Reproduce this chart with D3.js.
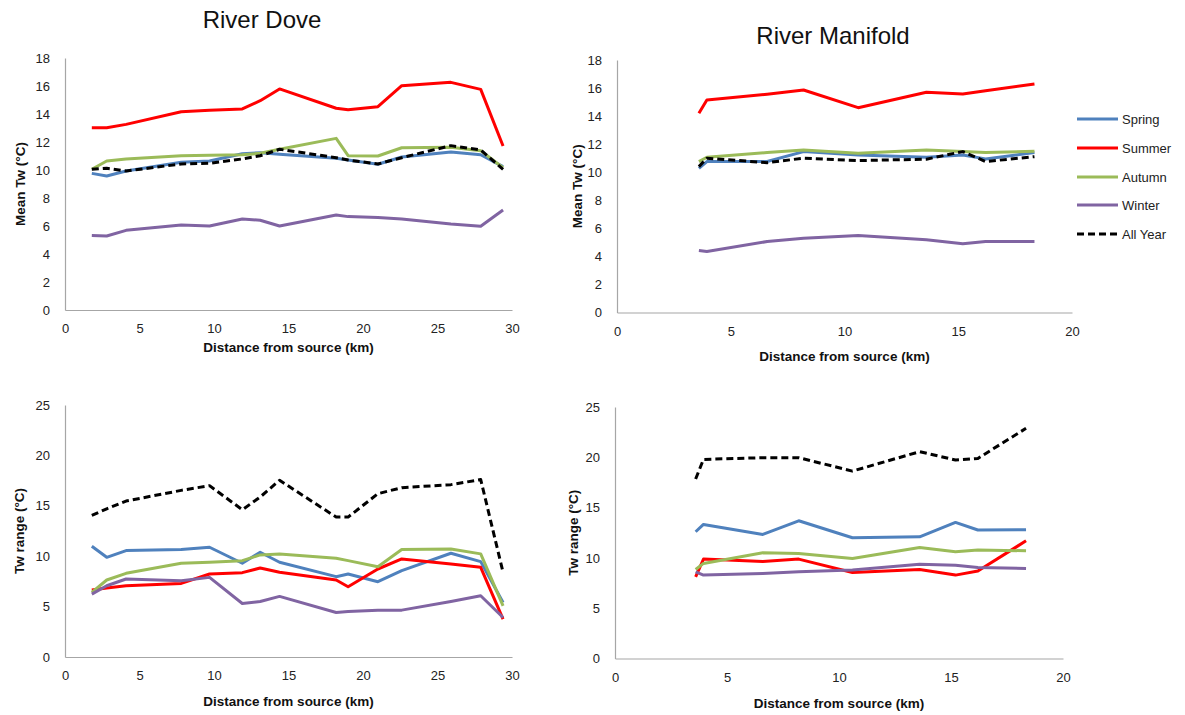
<!DOCTYPE html>
<html>
<head>
<meta charset="utf-8">
<script src="https://cdn.jsdelivr.net/npm/d3@7"></script>
<style>
  html, body { margin: 0; padding: 0; background: #fff; }
  svg { display: block; font-family: "Liberation Sans", Arial, sans-serif; }
</style>
</head>
<body>
<svg id="chart" width="1185" height="715"></svg>
<script>
// Sampling stations, distance from source (km)
const doveDistance = [1.8, 2.8, 4.1, 7.8, 9.7, 11.9, 13.1, 14.4, 18.2, 19.0, 21.0, 22.6, 25.9, 27.9, 29.4];
const manifoldDistance = [3.6, 3.95, 6.6, 8.2, 10.6, 13.6, 15.2, 16.2, 18.35];

// River Dove – mean water temperature (°C)
const doveMeanSpring  = [9.76, 9.57, 9.93, 10.55, 10.64, 11.16, 11.24, 11.12, 10.84, 10.71, 10.41, 10.93, 11.29, 11.09, 10.24];
const doveMeanSummer  = [13.02, 13.02, 13.26, 14.16, 14.26, 14.36, 14.95, 15.79, 14.41, 14.31, 14.52, 16.02, 16.26, 15.76, 11.71];
const doveMeanAutumn  = [10.05, 10.64, 10.79, 11.02, 11.05, 11.09, 11.19, 11.48, 12.26, 11.02, 11.0, 11.59, 11.62, 11.38, 10.16];
const doveMeanWinter  = [5.33, 5.29, 5.69, 6.07, 6.0, 6.5, 6.41, 6.0, 6.79, 6.67, 6.6, 6.5, 6.14, 5.98, 7.14];
const doveMeanAllYear = [10.05, 10.12, 9.93, 10.43, 10.48, 10.79, 11.02, 11.48, 10.88, 10.71, 10.43, 10.88, 11.74, 11.43, 10.05];

// River Dove – water temperature range (°C)
const doveRangeSpring  = [10.99, 9.89, 10.56, 10.66, 10.89, 9.30, 10.39, 9.40, 7.97, 8.23, 7.47, 8.57, 10.29, 9.46, 5.41];
const doveRangeSummer  = [6.64, 6.84, 7.07, 7.30, 8.23, 8.37, 8.83, 8.40, 7.64, 6.97, 8.73, 9.73, 9.23, 8.9, 3.75];
const doveRangeAutumn  = [6.41, 7.64, 8.30, 9.30, 9.40, 9.56, 10.13, 10.23, 9.79, 9.56, 8.96, 10.66, 10.72, 10.23, 5.08];
const doveRangeWinter  = [6.24, 7.07, 7.74, 7.57, 7.90, 5.31, 5.51, 6.01, 4.42, 4.52, 4.65, 4.65, 5.51, 6.08, 3.92];
const doveRangeAllYear = [14.04, 14.7, 15.47, 16.53, 17.0, 14.61, 15.87, 17.53, 13.88, 13.88, 16.2, 16.8, 17.1, 17.6, 8.4];

// River Manifold – mean water temperature (°C)
const manMeanSpring  = [10.28, 10.76, 10.76, 11.47, 11.23, 11.07, 11.23, 10.95, 11.4];
const manMeanSummer  = [14.2, 15.15, 15.56, 15.86, 14.6, 15.7, 15.58, 15.8, 16.29];
const manMeanAutumn  = [10.76, 11.07, 11.4, 11.59, 11.35, 11.59, 11.47, 11.4, 11.5];
const manMeanWinter  = [4.42, 4.35, 5.06, 5.3, 5.49, 5.18, 4.9, 5.06, 5.06];
const manMeanAllYear = [10.4, 11.0, 10.68, 11.0, 10.83, 10.93, 11.47, 10.76, 11.11];

// River Manifold – water temperature range (°C)
const manRangeSpring  = [12.6, 13.33, 12.33, 13.69, 12.0, 12.1, 13.53, 12.77, 12.8];
const manRangeSummer  = [8.12, 9.88, 9.65, 9.88, 8.55, 8.85, 8.29, 8.69, 11.7];
const manRangeAutumn  = [8.85, 9.45, 10.51, 10.44, 9.95, 11.04, 10.61, 10.78, 10.71];
const manRangeWinter  = [8.62, 8.29, 8.45, 8.62, 8.79, 9.38, 9.28, 9.05, 8.95];
const manRangeAllYear = [17.84, 19.79, 19.96, 19.96, 18.63, 20.56, 19.73, 19.89, 22.88];

const seriesNames = ["Spring", "Summer", "Autumn", "Winter", "All Year"];
const seriesColors = ["#4F81BD", "#FF0000", "#9BBB59", "#8064A2", "#000000"];

const svg = d3.select("#chart");

// Panel layout: pixel extents of each plot area
const panels = [
  { x0: 65, x1: 512, yTop: 58, yBot: 310, xMax: 30, yMax: 18, yStep: 2, xStep: 5,
    yTitle: "Mean Tw (°C)", yTitleX: 25, xTitleY: 352, distance: doveDistance,
    values: [doveMeanSpring, doveMeanSummer, doveMeanAutumn, doveMeanWinter, doveMeanAllYear] },
  { x0: 617, x1: 1072, yTop: 60, yBot: 312.5, xMax: 20, yMax: 18, yStep: 2, xStep: 5,
    yTitle: "Mean Tw (°C)", yTitleX: 582, xTitleY: 361, distance: manifoldDistance,
    values: [manMeanSpring, manMeanSummer, manMeanAutumn, manMeanWinter, manMeanAllYear] },
  { x0: 65, x1: 512, yTop: 405, yBot: 657, xMax: 30, yMax: 25, yStep: 5, xStep: 5,
    yTitle: "Tw range (°C)", yTitleX: 24, xTitleY: 706, distance: doveDistance,
    values: [doveRangeSpring, doveRangeSummer, doveRangeAutumn, doveRangeWinter, doveRangeAllYear] },
  { x0: 615, x1: 1063, yTop: 407, yBot: 658.5, xMax: 20, yMax: 25, yStep: 5, xStep: 5,
    yTitle: "Tw range (°C)", yTitleX: 578, xTitleY: 708, distance: manifoldDistance,
    values: [manRangeSpring, manRangeSummer, manRangeAutumn, manRangeWinter, manRangeAllYear] }
];

const axisColor = "#A6A6A6";

panels.forEach(p => {
  const x = d3.scaleLinear().domain([0, p.xMax]).range([p.x0, p.x1]);
  const y = d3.scaleLinear().domain([0, p.yMax]).range([p.yBot, p.yTop]);

  const g = svg.append("g");

  // y axis (line only, labels to the left)
  const yAxis = d3.axisLeft(y)
    .tickValues(d3.range(0, p.yMax + 0.001, p.yStep))
    .tickSize(0).tickPadding(15);
  const ya = g.append("g").attr("transform", `translate(${p.x0},0)`).call(yAxis);
  ya.select(".domain").attr("stroke", axisColor).attr("stroke-width", 1.2);
  ya.selectAll("text").attr("font-size", 13).attr("fill", "#222")
    .attr("font-family", "Liberation Sans, Arial, sans-serif");

  // x axis
  const xAxis = d3.axisBottom(x)
    .tickValues(d3.range(0, p.xMax + 0.001, p.xStep))
    .tickSize(0).tickPadding(14);
  const xa = g.append("g").attr("transform", `translate(0,${p.yBot})`).call(xAxis);
  xa.select(".domain").attr("stroke", axisColor).attr("stroke-width", 1.2);
  xa.selectAll("text").attr("font-size", 13).attr("fill", "#222")
    .attr("font-family", "Liberation Sans, Arial, sans-serif");

  // axis titles
  g.append("text")
    .attr("x", (p.x0 + p.x1) / 2).attr("y", p.xTitleY)
    .attr("text-anchor", "middle").attr("font-weight", "bold").attr("font-size", 13.5)
    .attr("fill", "#111")
    .text("Distance from source (km)");
  g.append("text")
    .attr("transform", `translate(${p.yTitleX},${(p.yTop + p.yBot) / 2}) rotate(-90)`)
    .attr("text-anchor", "middle").attr("font-weight", "bold").attr("font-size", 13.5)
    .attr("fill", "#111")
    .text(p.yTitle);

  // series lines
  const line = d3.line()
    .x((d, i) => x(p.distance[i]))
    .y(d => y(d));
  p.values.forEach((vals, k) => {
    g.append("path")
      .datum(vals)
      .attr("d", line)
      .attr("fill", "none")
      .attr("stroke", seriesColors[k])
      .attr("stroke-width", 3)
      .attr("stroke-linejoin", "round")
      .attr("stroke-dasharray", k === 4 ? "7,4" : null);
  });
});

// Panel titles
svg.append("text").attr("x", 262).attr("y", 28).attr("text-anchor", "middle")
  .attr("font-size", 24).attr("fill", "#111").text("River Dove");
svg.append("text").attr("x", 833).attr("y", 44).attr("text-anchor", "middle")
  .attr("font-size", 24).attr("fill", "#111").text("River Manifold");

// Legend
const legendY = [119, 148, 177, 205, 234];
const legend = svg.append("g");
seriesNames.forEach((name, k) => {
  legend.append("line")
    .attr("x1", 1077).attr("x2", 1118)
    .attr("y1", legendY[k]).attr("y2", legendY[k])
    .attr("stroke", seriesColors[k]).attr("stroke-width", 3)
    .attr("stroke-dasharray", k === 4 ? "7,4" : null);
  legend.append("text")
    .attr("x", 1122).attr("y", legendY[k]).attr("dy", "0.35em")
    .attr("font-size", 13).attr("fill", "#222")
    .text(name);
});
</script>
</body>
</html>
